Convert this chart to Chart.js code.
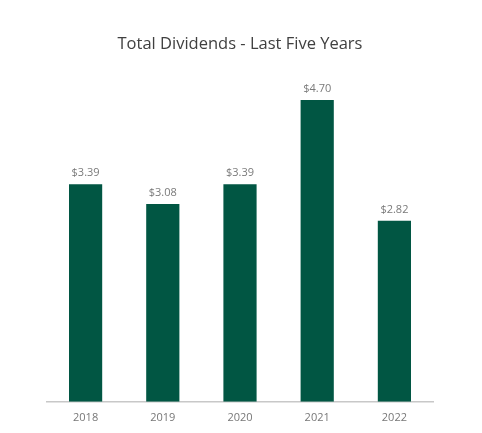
<!DOCTYPE html>
<html>
<head>
<meta charset="utf-8">
<script src="https://cdn.jsdelivr.net/npm/chart.js@4"></script>
<style>
  html, body { margin: 0; padding: 0; background: #fff; }
  #wrap { width: 482px; height: 433px; }
</style>
</head>
<body>
<div id="wrap"><canvas id="myChart"></canvas></div>
<script>
// chart data
const years = ['2018', '2019', '2020', '2021', '2022'];
const dividends = [3.39, 3.08, 3.39, 4.70, 2.82];

// draw the "$x.xx" label above each bar
const valueLabels = {
  id: 'valueLabels',
  afterDatasetsDraw(chart) {
    const c = chart.ctx;
    const meta = chart.getDatasetMeta(0);
    c.save();
    c.font = '11px "Open Sans", sans-serif';
    c.fillStyle = '#7a7a7a';
    c.textAlign = 'center';
    c.textBaseline = 'middle';
    meta.data.forEach((bar, i) => {
      c.fillText('$' + dividends[i].toFixed(2), bar.x, bar.y - 11);
    });
    c.restore();
  }
};

const ctx = document.getElementById('myChart');

new Chart(ctx, {
  type: 'bar',
  data: {
    labels: years,
    datasets: [{
      data: dividends,
      backgroundColor: '#015643',
      barPercentage: 0.43,
      categoryPercentage: 1
    }]
  },
  options: {
    responsive: true,
    maintainAspectRatio: false,
    animation: false,
    layout: {
      padding: { left: 47, right: 49, top: 0, bottom: 0 }
    },
    scales: {
      y: {
        display: false,
        beginAtZero: true,
        min: 0,
        max: 5
      },
      x: {
        grid: { display: false, drawTicks: false },
        border: { display: true, color: '#c8c8c8', width: 1.5 },
        ticks: {
          padding: 9,
          color: '#777',
          font: { family: '"Open Sans", sans-serif', size: 11 }
        }
      }
    },
    plugins: {
      legend: { display: false },
      tooltip: { enabled: false },
      title: {
        display: true,
        text: 'Total Dividends - Last Five Years',
        color: '#404040',
        font: { family: '"Open Sans", sans-serif', size: 16.5, weight: 'normal' },
        padding: { top: 34, bottom: 27 }
      }
    }
  },
  plugins: [valueLabels]
});
</script>
</body>
</html>
